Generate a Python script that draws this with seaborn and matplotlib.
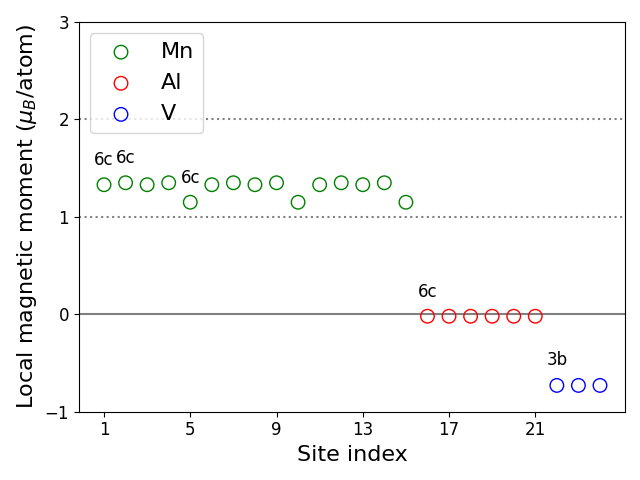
import numpy as np
import pandas as pd
import matplotlib
matplotlib.use("Agg")
import matplotlib.pyplot as plt
import seaborn as sns

mn_sites = list(range(1, 16))
mn_moments = [1.33, 1.35, 1.33, 1.35, 1.15, 1.33, 1.35, 1.33, 1.35, 1.15, 1.33, 1.35, 1.33, 1.35, 1.15]
al_sites = list(range(16, 22))
al_moments = [-0.02, -0.02, -0.02, -0.02, -0.02, -0.02]
v_sites = [22, 23, 24]
v_moments = [-0.73, -0.73, -0.73]

elements = ["Mn", "Al", "V"]
colors = ["green", "red", "blue"]

annot_labels = ["6c", "6c", "6c", "6c", "3b"]
annot_x = [1, 2, 5, 16, 22]
annot_y = [1.58, 1.60, 1.40, 0.23, -0.47]

xticks = [1, 5, 9, 13, 17, 21]
yticks = [-1, 0, 1, 2, 3]

fig, ax = plt.subplots(figsize=(6.4, 4.8), dpi=100)

groups = [(mn_sites, mn_moments), (al_sites, al_moments), (v_sites, v_moments)]
for (sites, mom), el, col in zip(groups, elements, colors):
    df = pd.DataFrame({"site": sites, "moment": mom})
    sns.scatterplot(data=df, x="site", y="moment", ax=ax, color=col,
                    facecolors="none", edgecolor=col, s=95, linewidth=1.0,
                    label=el, marker="o")

ax.axhline(0, color="grey", linewidth=1.5, zorder=0)
ax.axhline(1, color="grey", linestyle=":", linewidth=1.5, zorder=0)
ax.axhline(2, color="grey", linestyle=":", linewidth=1.5, zorder=0)

for t, x, y in zip(annot_labels, annot_x, annot_y):
    ax.text(x, y, t, fontsize=12, ha="center", va="center")

ax.set_xlim(-0.17, 25.16)
ax.set_ylim(-1, 3)
ax.set_xticks(xticks)
ax.set_yticks(yticks)
ax.tick_params(labelsize=12)
ax.set_xlabel("Site index", fontsize=16)
ax.set_ylabel(r"Local magnetic moment ($\mu_B$/atom)", fontsize=16)
ax.legend(loc="upper left", fontsize=16)

fig.tight_layout()
fig.savefig("out.png", dpi=100)
